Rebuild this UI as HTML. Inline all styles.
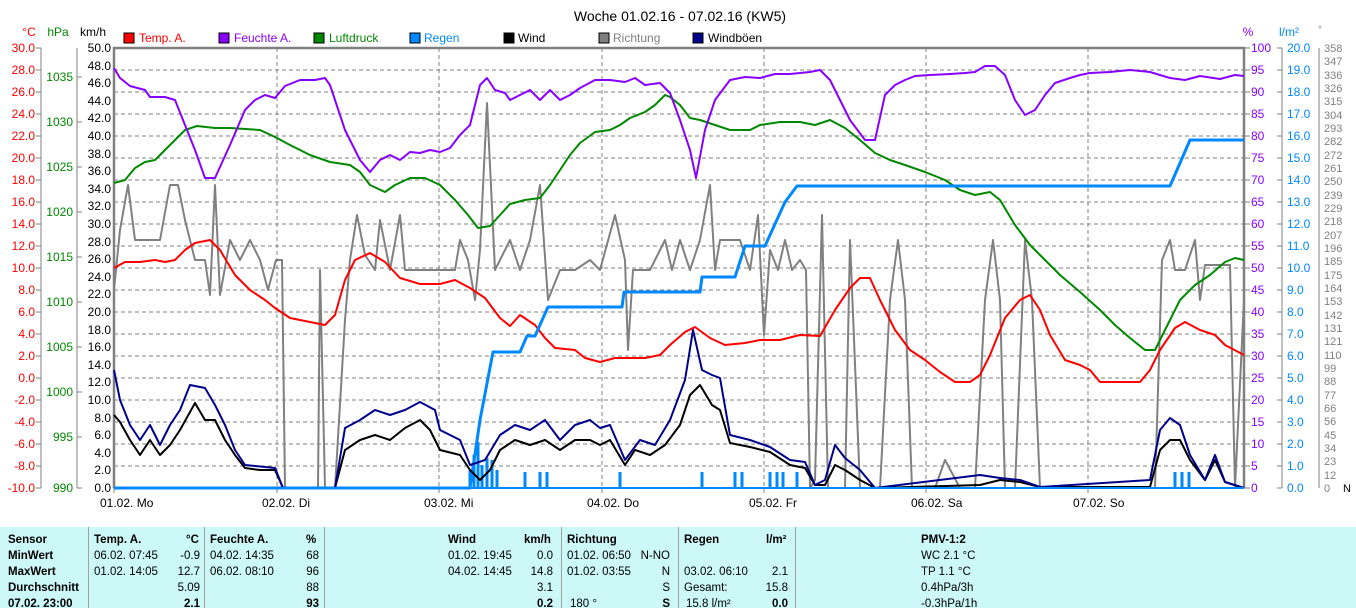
<!DOCTYPE html>
<html><head><meta charset="utf-8"><style>
html,body{margin:0;padding:0;background:#fff;}
body{width:1356px;height:608px;overflow:hidden;position:relative;font-family:"Liberation Sans",sans-serif;}
svg text{font-family:"Liberation Sans",sans-serif;}
#tbl{position:absolute;left:0;top:527px;width:1356px;height:81px;background:#ccf8f8;font-size:11.5px;color:#000;}
#tbl .c{position:absolute;white-space:nowrap;}
#tbl .b{font-weight:bold;}
#tbl .sep{position:absolute;top:0;width:1px;height:81px;background:#a0a0a0;}
</style></head><body>
<svg width="1356" height="527" xmlns="http://www.w3.org/2000/svg" style="position:absolute;left:0;top:0">
<text x="680" y="21" font-size="14" text-anchor="middle" fill="#000">Woche 01.02.16 - 07.02.16 (KW5)</text>
<text x="29" y="36" font-size="12" fill="#f00" text-anchor="middle">°C</text>
<text x="58" y="36" font-size="12" fill="#080" text-anchor="middle">hPa</text>
<text x="93" y="36" font-size="12" fill="#000" text-anchor="middle">km/h</text>
<text x="1248" y="36" font-size="12" fill="#80f" text-anchor="middle">%</text>
<text x="1289" y="36" font-size="12" fill="#08f" text-anchor="middle">l/m²</text>
<text x="1320" y="33" font-size="10" fill="#808080" text-anchor="middle">°</text>
<g font-size="12">
<rect x="124" y="33" width="10" height="10" fill="#f00" stroke="#000"/><text x="139" y="42" fill="#f00">Temp. A.</text>
<rect x="219" y="33" width="10" height="10" fill="#80f" stroke="#000"/><text x="234" y="42" fill="#80f">Feuchte A.</text>
<rect x="314" y="33" width="10" height="10" fill="#080" stroke="#000"/><text x="329" y="42" fill="#080">Luftdruck</text>
<rect x="410" y="33" width="10" height="10" fill="#08f" stroke="#000"/><text x="424" y="42" fill="#08f">Regen</text>
<rect x="504" y="33" width="10" height="10" fill="#000" stroke="#000"/><text x="518" y="42" fill="#000">Wind</text>
<rect x="599" y="33" width="10" height="10" fill="#808080" stroke="#000"/><text x="613" y="42" fill="#808080">Richtung</text>
<rect x="693" y="33" width="10" height="10" fill="#00008b" stroke="#000"/><text x="708" y="42" fill="#000">Windböen</text>
</g>
<!-- grid -->
<g stroke="#808080" stroke-dasharray="4,3" stroke-width="1">
<line x1="114" x2="1244" y1="70" y2="70"/><line x1="114" x2="1244" y1="92" y2="92"/><line x1="114" x2="1244" y1="114" y2="114"/><line x1="114" x2="1244" y1="136" y2="136"/><line x1="114" x2="1244" y1="158" y2="158"/><line x1="114" x2="1244" y1="180" y2="180"/><line x1="114" x2="1244" y1="202" y2="202"/><line x1="114" x2="1244" y1="224" y2="224"/><line x1="114" x2="1244" y1="246" y2="246"/><line x1="114" x2="1244" y1="268" y2="268"/><line x1="114" x2="1244" y1="290" y2="290"/><line x1="114" x2="1244" y1="312" y2="312"/><line x1="114" x2="1244" y1="334" y2="334"/><line x1="114" x2="1244" y1="356" y2="356"/><line x1="114" x2="1244" y1="378" y2="378"/><line x1="114" x2="1244" y1="400" y2="400"/><line x1="114" x2="1244" y1="422" y2="422"/><line x1="114" x2="1244" y1="444" y2="444"/><line x1="114" x2="1244" y1="466" y2="466"/>
<line x1="277" x2="277" y1="48" y2="488"/><line x1="439" x2="439" y1="48" y2="488"/><line x1="602" x2="602" y1="48" y2="488"/><line x1="764" x2="764" y1="48" y2="488"/><line x1="926" x2="926" y1="48" y2="488"/><line x1="1088" x2="1088" y1="48" y2="488"/>
</g>
<!-- axes -->
<g stroke="#808080" stroke-width="1" fill="none">
<line x1="41" x2="41" y1="48" y2="488"/>
<line x1="77" x2="77" y1="48" y2="488"/>
<line x1="1282" x2="1282" y1="48" y2="488"/>
<line x1="1319" x2="1319" y1="48" y2="488"/>
<path d="M36 48H41M36 70H41M36 92H41M36 114H41M36 136H41M36 158H41M36 180H41M36 202H41M36 224H41M36 246H41M36 268H41M36 290H41M36 312H41M36 334H41M36 356H41M36 378H41M36 400H41M36 422H41M36 444H41M36 466H41M36 488H41"/>
<path d="M77 77H82M77 122H82M77 167H82M77 212H82M77 257H82M77 302H82M77 347H82M77 392H82M77 437H82M77 488H82"/>
<path d="M1244 48H1250M1244 70H1250M1244 92H1250M1244 114H1250M1244 136H1250M1244 158H1250M1244 180H1250M1244 202H1250M1244 224H1250M1244 246H1250M1244 268H1250M1244 290H1250M1244 312H1250M1244 334H1250M1244 356H1250M1244 378H1250M1244 400H1250M1244 422H1250M1244 444H1250M1244 466H1250M1244 488H1250"/>
<path d="M1277 48H1282M1277 70H1282M1277 92H1282M1277 114H1282M1277 136H1282M1277 158H1282M1277 180H1282M1277 202H1282M1277 224H1282M1277 246H1282M1277 268H1282M1277 290H1282M1277 312H1282M1277 334H1282M1277 356H1282M1277 378H1282M1277 400H1282M1277 422H1282M1277 444H1282M1277 466H1282M1277 488H1282"/>
<path d="M114 488V493M277 488V493M439 488V493M602 488V493M764 488V493M926 488V493M1088 488V493"/>
</g>
<g stroke="#808080" stroke-width="2.5" fill="none"><path d="M114 488V48H1244V488"/></g>
<g font-size="12" fill="#f00" text-anchor="end">
<text x="35" y="52">30.0</text><text x="35" y="74">28.0</text><text x="35" y="96">26.0</text><text x="35" y="118">24.0</text><text x="35" y="140">22.0</text><text x="35" y="162">20.0</text><text x="35" y="184">18.0</text><text x="35" y="206">16.0</text><text x="35" y="228">14.0</text><text x="35" y="250">12.0</text><text x="35" y="272">10.0</text><text x="35" y="294">8.0</text><text x="35" y="316">6.0</text><text x="35" y="338">4.0</text><text x="35" y="360">2.0</text><text x="35" y="382">0.0</text><text x="35" y="404">-2.0</text><text x="35" y="426">-4.0</text><text x="35" y="448">-6.0</text><text x="35" y="470">-8.0</text><text x="35" y="492">-10.0</text>
</g>
<g font-size="12" fill="#080" text-anchor="end">
<text x="73" y="81">1035</text><text x="73" y="126">1030</text><text x="73" y="171">1025</text><text x="73" y="216">1020</text><text x="73" y="261">1015</text><text x="73" y="306">1010</text><text x="73" y="351">1005</text><text x="73" y="396">1000</text><text x="73" y="441">995</text><text x="73" y="492">990</text>
</g>
<g font-size="12" fill="#000" text-anchor="end">
<text x="111" y="52">50.0</text><text x="111" y="70">48.0</text><text x="111" y="87">46.0</text><text x="111" y="105">44.0</text><text x="111" y="122">42.0</text><text x="111" y="140">40.0</text><text x="111" y="158">38.0</text><text x="111" y="175">36.0</text><text x="111" y="193">34.0</text><text x="111" y="210">32.0</text><text x="111" y="228">30.0</text><text x="111" y="246">28.0</text><text x="111" y="263">26.0</text><text x="111" y="281">24.0</text><text x="111" y="298">22.0</text><text x="111" y="316">20.0</text><text x="111" y="334">18.0</text><text x="111" y="351">16.0</text><text x="111" y="369">14.0</text><text x="111" y="386">12.0</text><text x="111" y="404">10.0</text><text x="111" y="422">8.0</text><text x="111" y="439">6.0</text><text x="111" y="457">4.0</text><text x="111" y="474">2.0</text><text x="111" y="492">0.0</text>
</g>
<g font-size="12" fill="#80f">
<text x="1251" y="52">100</text><text x="1251" y="74">95</text><text x="1251" y="96">90</text><text x="1251" y="118">85</text><text x="1251" y="140">80</text><text x="1251" y="162">75</text><text x="1251" y="184">70</text><text x="1251" y="206">65</text><text x="1251" y="228">60</text><text x="1251" y="250">55</text><text x="1251" y="272">50</text><text x="1251" y="294">45</text><text x="1251" y="316">40</text><text x="1251" y="338">35</text><text x="1251" y="360">30</text><text x="1251" y="382">25</text><text x="1251" y="404">20</text><text x="1251" y="426">15</text><text x="1251" y="448">10</text><text x="1251" y="470">5</text><text x="1251" y="492">0</text>
</g>
<g font-size="12" fill="#08f">
<text x="1287" y="52">20.0</text><text x="1287" y="74">19.0</text><text x="1287" y="96">18.0</text><text x="1287" y="118">17.0</text><text x="1287" y="140">16.0</text><text x="1287" y="162">15.0</text><text x="1287" y="184">14.0</text><text x="1287" y="206">13.0</text><text x="1287" y="228">12.0</text><text x="1287" y="250">11.0</text><text x="1287" y="272">10.0</text><text x="1287" y="294">9.0</text><text x="1287" y="316">8.0</text><text x="1287" y="338">7.0</text><text x="1287" y="360">6.0</text><text x="1287" y="382">5.0</text><text x="1287" y="404">4.0</text><text x="1287" y="426">3.0</text><text x="1287" y="448">2.0</text><text x="1287" y="470">1.0</text><text x="1287" y="492">0.0</text>
</g>
<g font-size="11" fill="#808080">
<text x="1324" y="52">358</text><text x="1324" y="65">347</text><text x="1324" y="79">336</text><text x="1324" y="92">326</text><text x="1324" y="105">315</text><text x="1324" y="119">304</text><text x="1324" y="132">293</text><text x="1324" y="145">282</text><text x="1324" y="159">272</text><text x="1324" y="172">261</text><text x="1324" y="185">250</text><text x="1324" y="199">239</text><text x="1324" y="212">229</text><text x="1324" y="225">218</text><text x="1324" y="239">207</text><text x="1324" y="252">196</text><text x="1324" y="265">185</text><text x="1324" y="279">175</text><text x="1324" y="292">164</text><text x="1324" y="305">153</text><text x="1324" y="319">142</text><text x="1324" y="332">131</text><text x="1324" y="345">121</text><text x="1324" y="359">110</text><text x="1324" y="372">99</text><text x="1324" y="385">88</text><text x="1324" y="399">77</text><text x="1324" y="412">66</text><text x="1324" y="425">56</text><text x="1324" y="439">45</text><text x="1324" y="452">34</text><text x="1324" y="465">23</text><text x="1324" y="479">12</text><text x="1324" y="492">0</text><text x="1343" y="492" fill="#000">N</text>
</g>
<g font-size="12" fill="#000">
<text x="100" y="507">01.02.  Mo</text><text x="262" y="507">02.02.  Di</text><text x="424" y="507">03.02.  Mi</text><text x="587" y="507">04.02.  Do</text><text x="749" y="507">05.02.  Fr</text><text x="911" y="507">06.02.  Sa</text><text x="1073" y="507">07.02.  So</text>
</g>
<!-- series -->
<g fill="none" stroke-linejoin="round">
<polyline stroke="#808080" stroke-width="2" points="114,290 120,230 128,185 135,240 145,240 160,240 170,185 178,185 185,220 195,260 205,260 210,295 215,185 220,295 230,240 240,260 250,240 260,260 268,290 276,260 282,260 285,488 318,488 320,270 325,488 335,488 345,320 350,260 357,215 365,255 375,270 380,220 390,270 400,215 405,270 430,270 455,270 460,240 468,260 475,300 480,250 487,103 495,270 510,240 520,270 530,240 540,185 548,300 560,270 575,270 590,260 600,270 615,215 625,260 628,350 633,270 650,270 665,240 672,270 680,240 690,270 700,240 710,185 715,270 720,240 740,240 750,270 758,215 764,335 770,250 778,270 785,240 792,270 800,260 806,270 810,488 815,480 822,215 828,488 845,488 850,240 860,488 880,488 890,300 898,240 905,300 912,488 935,488 945,460 960,488 975,488 985,300 993,240 1000,300 1005,488 1015,488 1025,240 1032,300 1040,488 1155,488 1162,260 1170,240 1175,270 1185,270 1195,240 1200,300 1205,265 1215,265 1230,265 1235,488 1244,300"/>
<polyline stroke="#080" stroke-width="2" points="114,183 125,180 135,168 145,162 155,160 165,150 175,140 185,130 197,126 215,128 230,128 260,130 275,137 290,145 310,155 330,162 350,165 360,172 370,185 385,192 395,185 410,178 425,178 440,185 455,200 468,215 478,228 490,226 500,215 510,204 525,200 540,198 550,185 560,170 570,155 580,143 595,132 610,130 620,125 630,118 645,112 655,105 665,95 670,97 680,105 690,118 700,120 715,125 730,130 750,130 760,125 780,122 800,122 815,125 830,120 845,128 860,140 875,153 890,160 905,165 925,172 945,180 960,190 975,195 990,192 1000,200 1015,225 1030,245 1045,260 1060,275 1080,292 1100,310 1115,325 1130,338 1145,350 1155,350 1165,330 1180,300 1195,285 1210,275 1225,262 1235,258 1244,260"/>
<polyline stroke="#80f" stroke-width="2" points="114,68 120,78 130,86 145,90 150,97 165,97 175,100 185,125 195,150 205,178 215,178 230,145 245,110 255,100 265,95 275,98 285,86 300,80 315,80 325,78 330,85 345,130 360,160 370,172 380,160 390,155 400,160 410,152 420,153 430,150 440,152 450,148 460,135 470,125 480,85 487,78 495,90 505,93 510,100 520,95 530,90 540,100 550,90 560,100 570,95 580,88 595,80 610,80 625,82 635,78 645,85 660,83 670,93 680,120 690,150 696,178 705,130 715,100 730,80 745,77 760,78 775,74 790,74 800,73 810,72 820,70 830,80 840,100 850,120 865,140 875,140 885,95 895,85 905,80 915,76 930,75 950,74 965,73 975,72 985,66 995,66 1005,75 1015,100 1025,115 1035,110 1045,95 1055,83 1070,78 1080,75 1090,73 1110,72 1130,70 1150,72 1170,78 1185,80 1200,76 1220,79 1235,75 1244,76"/>
<polyline stroke="#f00" stroke-width="2" points="114,268 125,262 140,262 155,260 165,262 175,260 185,250 195,243 210,240 220,250 235,275 250,290 265,300 275,308 290,318 310,322 325,325 335,315 345,280 355,260 370,253 385,262 400,278 420,284 440,284 455,280 470,288 485,298 500,318 510,326 520,315 535,325 545,338 555,348 575,350 585,358 600,362 615,358 630,358 645,358 660,355 670,345 685,332 695,327 710,338 725,345 745,343 760,340 780,340 800,335 820,336 835,310 850,288 860,278 870,278 880,300 895,330 910,350 925,360 940,372 955,382 970,382 980,375 990,355 1005,318 1020,300 1030,295 1040,310 1050,335 1065,360 1080,365 1090,370 1100,382 1120,382 1140,382 1150,370 1160,350 1175,328 1185,322 1200,330 1215,335 1225,345 1244,355"/>
<polyline stroke="#08f" stroke-width="3" points="114,488 470,488 480,420 493,352 520,352 527,336 535,336 548,307 622,307 624,292 700,292 702,277 735,277 745,246 765,246 785,202 797,186 1170,186 1190,140 1244,140"/>
<path stroke="#08f" stroke-width="3" d="M470 488V470M474 488V455M478 488V442M482 488V465M487 488V458M492 488V460M497 488V470M525 488V472M540 488V472M547 488V472M620 488V472M702 488V472M735 488V472M742 488V472M770 488V472M777 488V472M783 488V472M797 488V472M1175 488V472M1182 488V472M1189 488V472"/>
<polyline stroke="#000" stroke-width="2" points="114,415 120,422 130,440 140,455 150,440 160,455 170,445 180,430 195,403 205,420 215,420 225,440 235,455 245,468 260,470 275,470 283,488 320,488 335,488 345,450 360,440 375,435 390,440 405,428 420,420 430,430 440,450 460,455 470,470 480,480 490,470 500,450 515,440 530,445 545,440 560,450 575,440 590,440 600,445 610,440 625,465 635,450 650,455 665,445 680,425 690,395 700,385 712,405 720,410 730,443 750,447 770,452 790,465 805,468 815,485 825,485 835,465 845,470 860,480 875,488 980,485 1000,480 1020,482 1040,487 1150,487 1160,450 1170,440 1180,440 1190,460 1205,480 1215,460 1225,482 1244,488"/>
<polyline stroke="#00008b" stroke-width="2" points="114,370 120,400 130,425 140,440 150,425 160,445 170,425 180,410 190,385 205,388 215,405 225,425 235,450 245,465 275,468 283,488 335,488 345,428 360,420 375,410 390,415 405,410 420,402 435,410 440,430 460,440 470,465 485,460 500,435 515,425 530,430 545,420 560,440 575,425 590,420 600,428 610,425 625,460 640,440 655,445 670,420 685,380 693,330 702,370 712,375 720,378 730,435 750,440 770,447 790,460 805,462 815,485 825,480 835,445 845,458 860,470 875,488 980,475 1000,478 1020,480 1040,487 1150,480 1160,430 1170,418 1180,425 1190,455 1205,480 1215,455 1225,482 1244,488"/>
<line x1="114" x2="1244" y1="488" y2="488" stroke="#08f" stroke-width="2"/>
</g>
</svg>
<div id="tbl">
<div class="sep" style="left:88px"></div><div class="sep" style="left:204px"></div><div class="sep" style="left:324px"></div><div class="sep" style="left:561px"></div><div class="sep" style="left:678px"></div><div class="sep" style="left:795px"></div>
<div class="c b" style="left:8px;top:7px">Sensor</div><div class="c b" style="left:8px;top:23px">MinWert</div><div class="c b" style="left:8px;top:39px">MaxWert</div><div class="c b" style="left:8px;top:55px">Durchschnitt</div><div class="c b" style="left:8px;top:71px">07.02. 23:00</div>
<div class="c b" style="left:94px;top:7px">Temp. A.</div><div class="c b" style="left:186px;top:7px">°C</div>
<div class="c" style="left:94px;top:23px">06.02.  07:45</div><div class="c" style="right:1156px;top:23px">-0.9</div>
<div class="c" style="left:94px;top:39px">01.02.  14:05</div><div class="c" style="right:1156px;top:39px">12.7</div>
<div class="c" style="right:1156px;top:55px">5.09</div><div class="c b" style="right:1156px;top:71px">2.1</div>
<div class="c b" style="left:210px;top:7px">Feuchte A.</div><div class="c b" style="left:306px;top:7px">%</div>
<div class="c" style="left:210px;top:23px">04.02.  14:35</div><div class="c" style="right:1037px;top:23px">68</div>
<div class="c" style="left:210px;top:39px">06.02.  08:10</div><div class="c" style="right:1037px;top:39px">96</div>
<div class="c" style="right:1037px;top:55px">88</div><div class="c b" style="right:1037px;top:71px">93</div>
<div class="c b" style="left:448px;top:7px">Wind</div><div class="c b" style="left:524px;top:7px">km/h</div>
<div class="c" style="left:448px;top:23px">01.02.  19:45</div><div class="c" style="right:803px;top:23px">0.0</div>
<div class="c" style="left:448px;top:39px">04.02.  14:45</div><div class="c" style="right:803px;top:39px">14.8</div>
<div class="c" style="right:803px;top:55px">3.1</div><div class="c b" style="right:803px;top:71px">0.2</div>
<div class="c b" style="left:567px;top:7px">Richtung</div>
<div class="c" style="left:567px;top:23px">01.02.  06:50</div><div class="c" style="right:686px;top:23px">N-NO</div>
<div class="c" style="left:567px;top:39px">01.02.  03:55</div><div class="c" style="right:686px;top:39px">N</div>
<div class="c" style="right:686px;top:55px">S</div><div class="c" style="left:570px;top:71px">180 °</div><div class="c b" style="right:686px;top:71px">S</div>
<div class="c b" style="left:684px;top:7px">Regen</div><div class="c b" style="left:766px;top:7px">l/m²</div>
<div class="c" style="left:684px;top:39px">03.02.  06:10</div><div class="c" style="right:568px;top:39px">2.1</div>
<div class="c" style="left:684px;top:55px">Gesamt:</div><div class="c" style="right:568px;top:55px">15.8</div>
<div class="c" style="left:686px;top:71px">15.8 l/m²</div><div class="c b" style="right:568px;top:71px">0.0</div>
<div class="c b" style="left:921px;top:7px">PMV-1:2</div>
<div class="c" style="left:921px;top:23px">WC 2.1 °C</div><div class="c" style="left:921px;top:39px">TP 1.1 °C</div><div class="c" style="left:921px;top:55px">0.4hPa/3h</div><div class="c" style="left:921px;top:71px">-0.3hPa/1h</div>
</div>
</body></html>
